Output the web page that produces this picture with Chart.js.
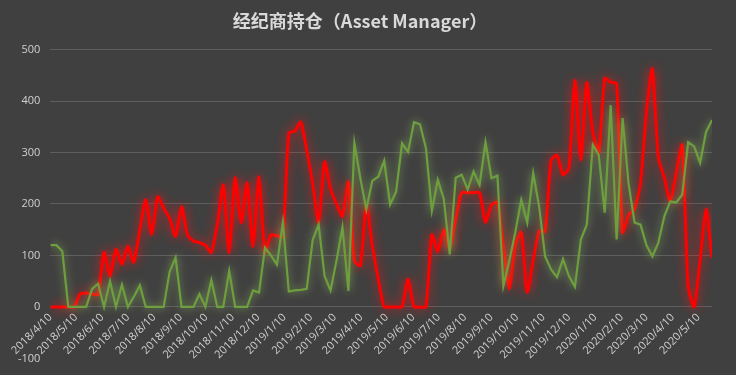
<!DOCTYPE html>
<html>
<head>
<meta charset="utf-8">
<script src="https://cdn.jsdelivr.net/npm/chart.js@4.4.0/dist/chart.umd.min.js"></script>
<style>
  html, body { margin: 0; padding: 0; background: #404040; }
  #wrap { width: 736px; height: 375px; }
</style>
</head>
<body>
<div id="wrap"><canvas id="myChart"></canvas></div>
<script>
// weekly reports, the first one is on 2018/4/10
const startDate = '2018/4/10';

// green line (one value per week)
const greenValues = [
  120, 120, 108, 0, 0, 0, 0, 35, 45, 0,
  50, 0, 43, 0, 20, 42, 0, 0, 0, 0,
  68, 96, 0, 0, 0, 25, 0, 52, 0, 0,
  70, 0, 0, 0, 32, 28, 115, 100, 82, 164,
  30, 32, 33, 35, 130, 160, 60, 32, 90, 155,
  31, 318, 250, 190, 245, 253, 284, 199, 224, 318,
  301, 359, 355, 309, 187, 247, 210, 102, 251, 257,
  228, 263, 237, 320, 250, 255, 41, 90, 145, 208,
  164, 260, 195, 98, 73, 58, 93, 60, 39, 131,
  160, 315, 295, 183, 392, 131, 367, 240, 164, 160,
  120, 98, 125, 176, 205, 203, 218, 320, 312, 280,
  340, 363
];

// red line
const redValues = [
  0, 0, 0, 0, 0, 25, 27, 25, 24, 106,
  60, 112, 83, 118, 87, 150, 208, 141, 214, 192,
  172, 137, 195, 140, 128, 125, 120, 106, 160, 237,
  106, 251, 164, 241, 118, 253, 106, 140, 138, 137,
  338, 342, 359, 305, 240, 164, 282, 230, 200, 176,
  243, 90, 80, 199, 120, 55, 0, 0, 0, 0,
  54, 0, 0, 0, 140, 108, 150, 113, 170, 222,
  222, 222, 222, 165, 198, 203, 120, 35, 120, 145,
  29, 90, 147, 147, 285, 295, 257, 270, 440, 286,
  436, 340, 299, 444, 437, 434, 145, 178, 190, 240,
  380, 463, 290, 251, 205, 260, 315, 40, 0, 90,
  190, 96
];

// month labels on the x axis
const monthLabels = [
  '2018/4/10', '2018/5/10', '2018/6/10', '2018/7/10', '2018/8/10', '2018/9/10',
  '2018/10/10', '2018/11/10', '2018/12/10', '2019/1/10', '2019/2/10', '2019/3/10',
  '2019/4/10', '2019/5/10', '2019/6/10', '2019/7/10', '2019/8/10', '2019/9/10',
  '2019/10/10', '2019/11/10', '2019/12/10', '2020/1/10', '2020/2/10', '2020/3/10',
  '2020/4/10', '2020/5/10'
];

const yTicks = [-100, 0, 100, 200, 300, 400, 500];

function dayOffset(label) {
  const [y, m, d] = label.split('/').map(Number);
  const [y0, m0, d0] = startDate.split('/').map(Number);
  return (Date.UTC(y, m - 1, d) - Date.UTC(y0, m0 - 1, d0)) / 86400000;
}
const monthDays = monthLabels.map(dayOffset);

// x of every point = days since the first report (weekly)
const toPoints = values => values.map((v, i) => ({ x: i * 7, y: v }));

// soft glow around each line
const glow = {
  id: 'glow',
  beforeDatasetDraw(chart, args) {
    const ds = chart.data.datasets[args.index];
    chart.ctx.save();
    chart.ctx.shadowColor = ds.glowColor;
    chart.ctx.shadowBlur = ds.glowBlur;
  },
  afterDatasetDraw(chart) {
    chart.ctx.restore();
  }
};

new Chart(document.getElementById('myChart'), {
  type: 'line',
  data: {
    datasets: [
      {
        label: '系列1',
        data: toPoints(greenValues),
        borderColor: '#6e9f3e',
        borderWidth: 2.2,
        pointRadius: 0,
        tension: 0,
        glowColor: 'rgba(160,210,100,0.7)',
        glowBlur: 9
      },
      {
        label: '系列2',
        data: toPoints(redValues),
        borderColor: '#ff0000',
        borderWidth: 3,
        pointRadius: 0,
        tension: 0.2,
        glowColor: 'rgba(255,20,20,0.9)',
        glowBlur: 11
      }
    ]
  },
  options: {
    responsive: true,
    maintainAspectRatio: false,
    animation: false,
    layout: { padding: { left: 8, right: 24, bottom: 12 } },
    plugins: {
      legend: { display: false },
      tooltip: { enabled: false },
      title: {
        display: true,
        text: '经纪商持仓（Asset Manager）',
        color: '#d9d9d9',
        font: { family: '"Noto Sans CJK SC", "Noto Sans", sans-serif', size: 18, weight: 'bold' },
        padding: { top: 10, bottom: 18 }
      }
    },
    scales: {
      x: {
        type: 'linear',
        position: { y: 0 },
        min: 0,
        max: (redValues.length - 1) * 7,
        afterBuildTicks: axis => { axis.ticks = monthDays.map(v => ({ value: v })); },
        grid: { display: false, drawTicks: false },
        border: { display: false },
        ticks: {
          color: '#d0d0d0',
          font: { family: '"Open Sans", sans-serif', size: 11 },
          minRotation: 45,
          maxRotation: 45,
          padding: 4,
          autoSkip: false,
          callback: value => monthLabels[monthDays.indexOf(value)] || ''
        }
      },
      y: {
        min: -100,
        max: 500,
        afterBuildTicks: axis => { axis.ticks = yTicks.map(v => ({ value: v })); },
        grid: {
          color: ctx => (ctx.tick && ctx.tick.value === -100) ? 'rgba(0,0,0,0)' : '#5e5e5e',
          drawTicks: false
        },
        border: { display: false },
        ticks: {
          color: '#d0d0d0',
          font: { family: '"Open Sans", sans-serif', size: 11 },
          padding: 10
        }
      }
    }
  },
  plugins: [glow]
});
</script>
</body>
</html>
